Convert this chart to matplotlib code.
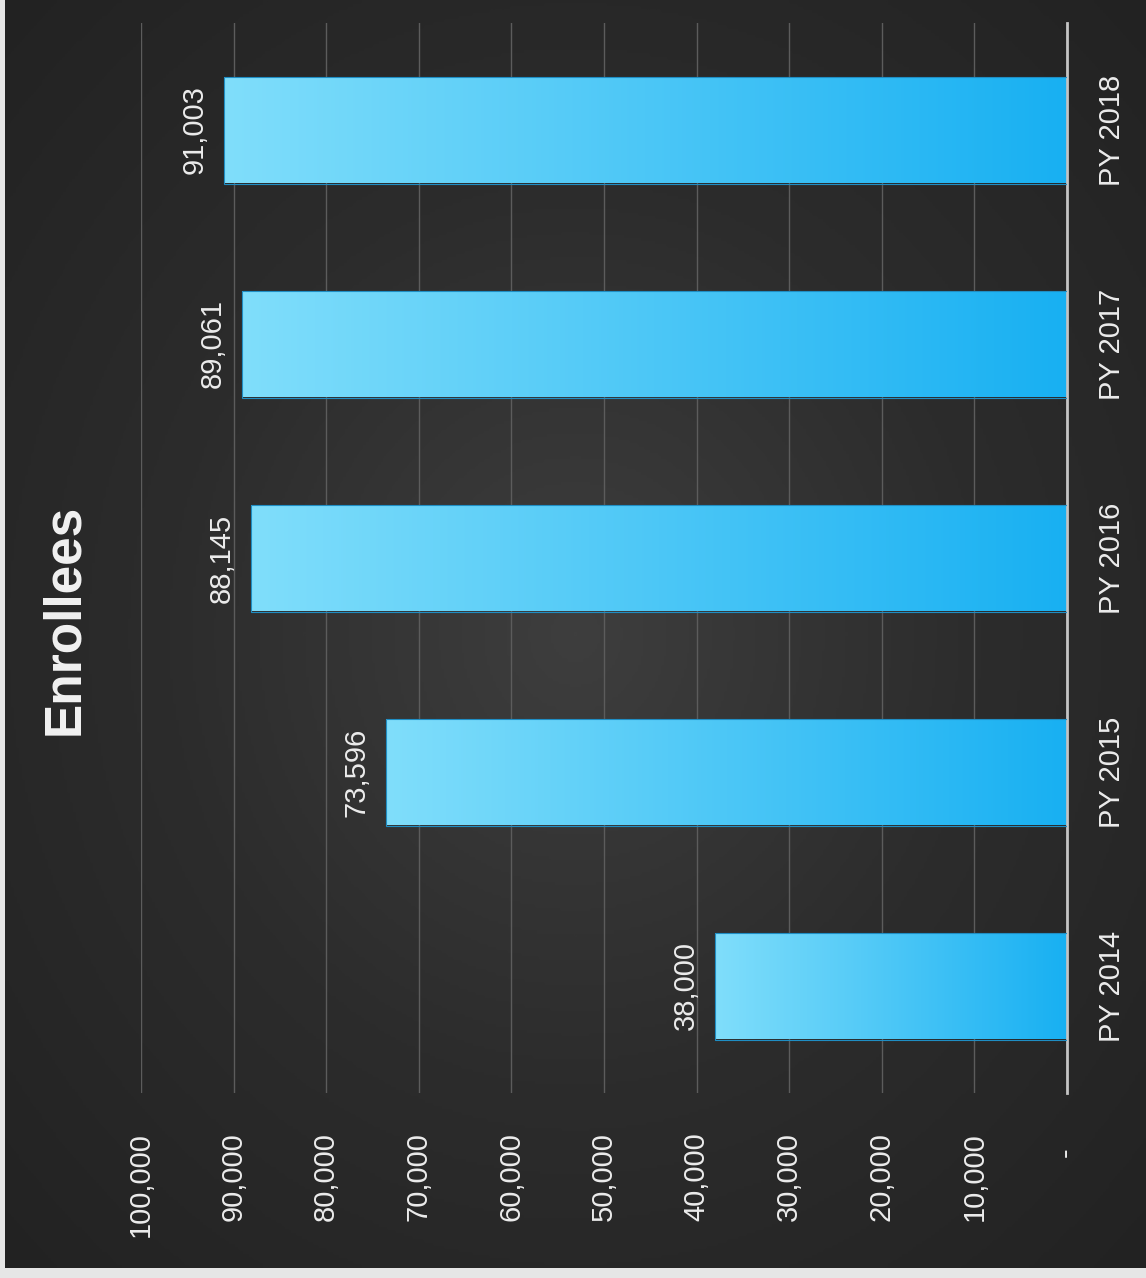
import numpy as np
import matplotlib
matplotlib.use('Agg')
import matplotlib.pyplot as plt
from matplotlib.colors import LinearSegmentedColormap, to_rgb

# data
years = ['PY 2014', 'PY 2015', 'PY 2016', 'PY 2017', 'PY 2018']
enrollees = [38000, 73596, 88145, 89061, 91003]
value_ticks = [0, 10000, 20000, 30000, 40000, 50000, 60000, 70000, 80000, 90000, 100000]
value_tick_labels = ['-  ', '10,000', '20,000', '30,000', '40,000', '50,000',
                     '60,000', '70,000', '80,000', '90,000', '100,000']
title = 'Enrollees'

plt.rcParams['font.family'] = ['Liberation Sans', 'DejaVu Sans']
txt_color = '#ececec'

W, H = 1146, 1278
fig = plt.figure(figsize=(W / 100, H / 100), dpi=100, facecolor='#e6e6e6')

# dark panel with soft radial light in the middle
bg = fig.add_axes([5 / W, 10 / H, 1 - 5 / W, 1 - 10 / H])
yy, xx = np.mgrid[0:1:400j, 0:1:400j]
r = np.sqrt(((xx - 0.5) / 0.75) ** 2 + ((yy - 0.5) / 0.75) ** 2)
bg_cmap = LinearSegmentedColormap.from_list('bg', ['#3e3e3e', '#2c2c2c', '#222222'])
bg.imshow(r, cmap=bg_cmap, extent=[0, 1, 0, 1], aspect='auto', vmin=0, vmax=0.95)
bg.axis('off')

# the chart is a column chart turned a quarter turn: value axis runs right -> left
ax = fig.add_axes([141 / W, 1 - 1093 / H, (1067 - 141) / W, (1093 - 23) / H])
ax.patch.set_alpha(0)

ypos = np.arange(len(years))
bars = ax.barh(ypos, enrollees, height=0.5, color='none', edgecolor='#1f8ec4', linewidth=0.8, zorder=3)

# gradient fill along each bar (light at the tip, deeper blue at the base)
c0 = np.array(to_rgb('#80defb'))
c1 = np.array(to_rgb('#18b0f2'))
t = np.linspace(0, 1, 256)
grad = (c0[None, :] * (1 - t[:, None]) + c1[None, :] * t[:, None])[None, :, :]
for b, v, y in zip(bars, enrollees, ypos):
    im = ax.imshow(grad, extent=[v, 0, y - 0.25, y + 0.25], aspect='auto', zorder=2,
                   interpolation='bilinear')
    im.set_clip_path(b)

ax.set_xlim(100000, 0)
ax.set_ylim(-0.5, len(years) - 0.5)

ax.set_xticks(value_ticks)
ax.set_xticklabels(value_tick_labels, rotation=90)
ax.tick_params(axis='x', length=0, pad=28, labelsize=21, colors=txt_color)

ax.yaxis.tick_right()
ax.set_yticks(ypos)
ax.set_yticklabels(years, rotation=90, va='center')
ax.tick_params(axis='y', length=0, pad=22, labelsize=21, colors=txt_color)

ax.grid(axis='x', color='#5c5c5c', linewidth=1)
ax.set_axisbelow(True)
for s in ['top', 'left', 'bottom']:
    ax.spines[s].set_visible(False)
ax.spines['right'].set_color('#c4c4c4')
ax.spines['right'].set_linewidth(2)

for v, y in zip(enrollees, ypos):
    ax.annotate(f'{v:,}', (v, y), xytext=(-11, 0), textcoords='offset points',
                rotation=90, ha='right', va='center', fontsize=21, color=txt_color)

fig.text(65 / W, 1 - 619 / H, title, rotation=90, ha='center', va='center',
         fontsize=37, fontweight='bold', color='#f2f2f2')

fig.savefig('out.png', dpi=100, facecolor=fig.get_facecolor())
